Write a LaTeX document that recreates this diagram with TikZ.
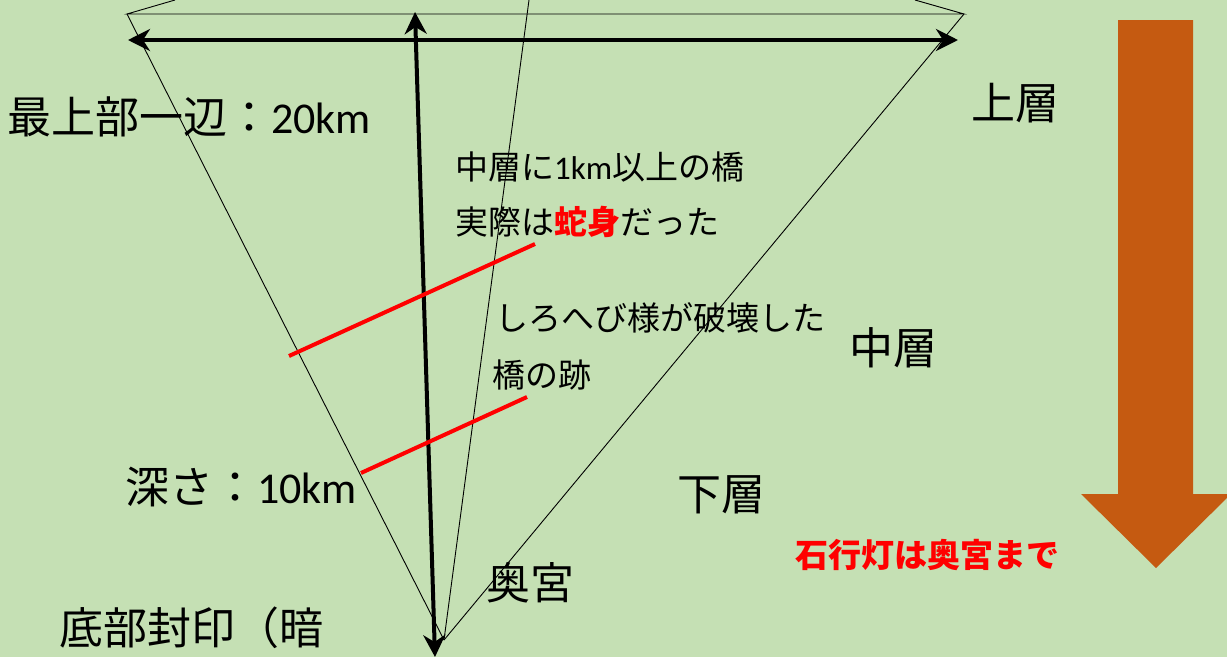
\documentclass[tikz,border=0pt]{standalone}
\usepackage{fontspec}
\setmainfont{Carlito}
\newfontfamily\jp{Noto Sans CJK JP}
\usetikzlibrary{arrows.meta}
\definecolor{bg}{HTML}{C5E0B4}
\definecolor{bigarrow}{HTML}{C55A11}
\definecolor{redline}{HTML}{FF0000}
\tikzset{
  thin edge/.style={black, line width=0.9pt},
  thick arrow/.style={black, line width=4pt, {Stealth[length=22pt,width=22pt,inset=7pt]}-{Stealth[length=22pt,width=22pt,inset=7pt]}},
  bridge/.style={redline, line width=4pt},
  big/.style={anchor=west, inner sep=0pt, font=\fontsize{44}{52}\selectfont},
  mid/.style={anchor=west, inner sep=0pt, font=\fontsize{33}{40}\selectfont},
}
\begin{document}
\begin{tikzpicture}[x=1pt,y=-1pt]
\fill[bg] (0,0) rectangle (1227,657);
\useasboundingbox (0,0) rectangle (1227,657);
\begin{scope}
\clip (0,0) rectangle (1227,657);
% big orange arrow
\fill[bigarrow] (1118,20) -- (1193,20) -- (1193,494) -- (1231,494) -- (1156,568) -- (1081,494) -- (1118,494) -- cycle;
% pyramid
\coordinate (TL) at (127,14);
\coordinate (TR) at (964,14);
\coordinate (Ap) at (444,640);
\coordinate (BK) at (529,0);
\coordinate (TLu) at (175,0);
\coordinate (TRu) at (915,0);
\draw[thin edge] (TLu) -- (TL) -- (TR) -- (TRu);
\draw[thin edge] (TL) -- (Ap);
\draw[thin edge] (TR) -- (Ap);
\draw[thin edge] (BK) -- (Ap);
% dimension arrows
\coordinate (HL) at (128,40);
\coordinate (HR) at (958,40);
\coordinate (VT) at (415,12);
\coordinate (VB) at (435,657);
\draw[thick arrow] (HL) -- (HR);
\draw[thick arrow] (VT) -- (VB);
% bridges
\coordinate (R1a) at (289,356);
\coordinate (R1b) at (535,244);
\coordinate (R2a) at (361,473);
\coordinate (R2b) at (527,397);
\draw[bridge] (R1a) -- (R1b);
\draw[bridge] (R2a) -- (R2b);
\end{scope}
% texts
\node[big] (top) at (7,117) {{\jp 最上部一辺：}20km};
\node[big] (upper) at (971,103) {\jp 上層};
\node[big] (middle) at (849,348) {\jp 中層};
\node[big] (lower) at (677,495) {\jp 下層};
\node[big] (depth) at (125,487) {{\jp 深さ：}10km};
\node[big] (okumiya) at (486,583) {\jp 奥宮};
\node[big] (bottom) at (59,628) {\jp 底部封印（暗};
\node[mid] (t1) at (455,167) {{\jp 中層に}1km{\jp 以上の橋}};
\node[mid] (t2) at (455,222) {\jp 実際は{\color{redline}\bfseries 蛇身}だった};
\node[mid] (t3) at (495,318) {\jp しろへび様が破壊した};
\node[mid] (t4) at (492,375) {\jp 橋の跡};
\node[mid, text=redline] (lamp) at (795,555) {\jp\bfseries 石行灯は奥宮まで};
\end{tikzpicture}
\end{document}
